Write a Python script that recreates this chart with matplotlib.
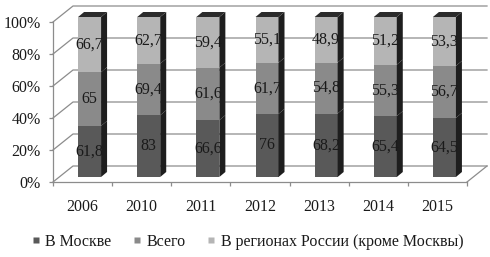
import matplotlib
matplotlib.use('Agg')
import matplotlib.pyplot as plt
from matplotlib.patches import Polygon
from matplotlib.lines import Line2D
import numpy as np

years = ['2006', '2010', '2011', '2012', '2013', '2014', '2015']
moscow = [61.8, 83, 66.6, 76, 68.2, 65.4, 64.5]
total = [65, 69.4, 61.6, 61.7, 54.8, 55.3, 56.7]
regions = [66.7, 62.7, 59.4, 55.1, 48.9, 51.2, 53.3]
series_names = ['В Москве', 'Всего', 'В регионах России (кроме Москвы)']
yticks = [0, 20, 40, 60, 80, 100]

front_colors = ['#595959', '#8a8a8a', '#b5b5b5']
side_color = '#1e1e1e'
top_color = '#2b2b2b'
grid_color = '#8c8c8c'
text_color = '#1a1a1a'

plt.rcParams['font.family'] = ['Liberation Serif', 'DejaVu Serif']
FS = 11.5

W, H = 490, 257
fig = plt.figure(figsize=(W / 100, H / 100), dpi=100)
ax = fig.add_axes([53 / W, (H - 182) / H, 414 / W, 160 / H])
n = len(years)
ax.set_xlim(-0.5, n - 0.5)
ax.set_ylim(0, 100)

ux = 414 / n   # px per category unit
uy = 160 / 100  # px per percent
BX, BY = 20 / ux, 16 / uy      # back wall offset
BX0, BY0 = 7 / ux, 5 / uy      # bar front-face offset
SDX, SDY = 6 / ux, 5 / uy      # bar depth
bw = 23 / ux

# back wall gridlines and floor
x0, x1 = -0.5, n - 0.5
for t in yticks:
    ax.plot([x0, x0 + BX, x1 + BX], [t, t + BY, t + BY], color=grid_color,
            lw=0.9, clip_on=False, zorder=1)
ax.plot([x1, x1 + BX], [0, BY], color=grid_color, lw=0.9, clip_on=False, zorder=1)

# stacked 100% bars
vals = np.array([moscow, total, regions], dtype=float)
frac = vals / vals.sum(axis=0) * 100
x = np.arange(n)
bottom = np.zeros(n)
for s in range(3):
    ax.bar(x + BX0, frac[s], width=bw, bottom=bottom + BY0, color=front_colors[s],
           edgecolor='none', clip_on=False, zorder=3)
    for i in range(n):
        xr = x[i] + BX0 + bw / 2
        yb = bottom[i] + BY0
        yt = yb + frac[s][i]
        side = Polygon([[xr, yb], [xr + SDX, yb + SDY], [xr + SDX, yt + SDY], [xr, yt]],
                       closed=True, facecolor=side_color, edgecolor='none',
                       clip_on=False, zorder=3)
        ax.add_patch(side)
        ax.text(x[i] + BX0, yb + frac[s][i] / 2, f'{vals[s][i]:g}'.replace('.', ','),
                ha='center', va='center', fontsize=FS, color=text_color, zorder=5)
    bottom = bottom + frac[s]
for i in range(n):
    xl = x[i] + BX0 - bw / 2
    xr = x[i] + BX0 + bw / 2
    yt = bottom[i] + BY0
    top = Polygon([[xl, yt], [xr, yt], [xr + SDX, yt + SDY], [xl + SDX, yt + SDY]],
                  closed=True, facecolor=top_color, edgecolor='none',
                  clip_on=False, zorder=3)
    ax.add_patch(top)

# axes styling
for sp in ['top', 'right']:
    ax.spines[sp].set_visible(False)
for sp in ['left', 'bottom']:
    ax.spines[sp].set_color(grid_color)
    ax.spines[sp].set_linewidth(0.9)
ax.set_yticks(yticks)
ax.set_yticklabels([f'{t}%' for t in yticks], fontsize=FS, color=text_color)
ax.set_xticks(x)
ax.set_xticklabels(years, fontsize=FS, color=text_color)
ax.set_xticks(np.arange(n + 1) - 0.5, minor=True)
ax.tick_params(axis='y', direction='out', length=3, width=0.9, color=grid_color, pad=6)
ax.tick_params(axis='x', which='major', length=0, pad=12)
ax.tick_params(axis='x', which='minor', direction='out', length=3, width=0.9, color=grid_color)

handles = [Line2D([], [], marker='s', linestyle='none', markersize=4.5,
                  markerfacecolor=c, markeredgecolor='none') for c in front_colors]
fig.legend(handles, series_names, loc='center', bbox_to_anchor=(247 / W, 1 - 242 / H),
           ncol=3, frameon=False, fontsize=FS, handlelength=0.6, handletextpad=0.3,
           columnspacing=1.3, labelcolor=text_color)

fig.savefig('out.png', dpi=100)
